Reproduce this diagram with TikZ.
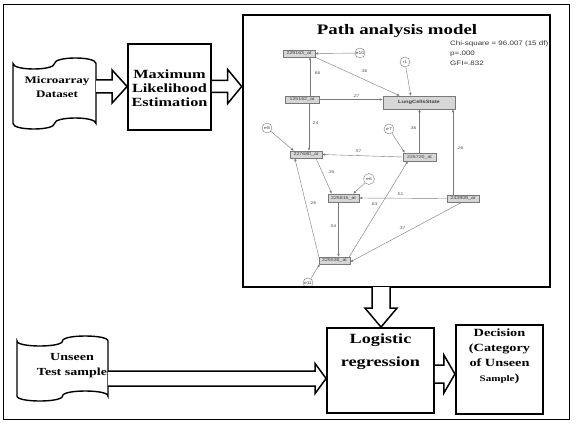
\documentclass[tikz,border=0pt]{standalone}
\usepackage{fontspec}
\setmainfont{Liberation Serif}
\newfontfamily\wserif[FakeStretch=1.3]{Liberation Serif}
\newfontfamily\wsans[FakeStretch=1.25]{Liberation Sans}
\usetikzlibrary{arrows.meta,calc}
\definecolor{amosline}{RGB}{120,120,120}
\definecolor{amosfill}{RGB}{214,214,214}
\newcommand\tapepath[6]{%
\draw[#1] (#2,{#3+#6}) .. controls (#2,{#3+#6+4*#6/3}) and ({(#2+#4)/2},{#3+#6+4*#6/3}) .. ({(#2+#4)/2},{#3+#6})
 .. controls ({(#2+#4)/2},{#3+#6-4*#6/3}) and (#4,{#3+#6-4*#6/3}) .. (#4,{#3+#6})
 -- (#4,{#5-#6}) .. controls (#4,{#5-#6-4*#6/3}) and ({(#2+#4)/2},{#5-#6-4*#6/3}) .. ({(#2+#4)/2},{#5-#6})
 .. controls ({(#2+#4)/2},{#5-#6+4*#6/3}) and (#2,{#5-#6+4*#6/3}) .. (#2,{#5-#6}) -- cycle;}
% horizontal hollow arrow: start, end, shaft half, head half, head length
\newcommand\harrowblk[5]{%
\draw[blk] let \p1=(#1), \p2=(#2) in (\x1,\y1+#3) -- (\x2-#5,\y1+#3) -- (\x2-#5,\y1+#4) -- (\x2,\y1)
 -- (\x2-#5,\y1-#4) -- (\x2-#5,\y1-#3) -- (\x1,\y1-#3);}
% vertical (downward) hollow arrow
\newcommand\varrowblk[5]{%
\draw[blk] let \p1=(#1), \p2=(#2) in (\x1-#3,\y1) -- (\x1-#3,\y2+#5) -- (\x1-#4,\y2+#5) -- (\x1,\y2)
 -- (\x1+#4,\y2+#5) -- (\x1+#3,\y2+#5) -- (\x1+#3,\y1);}
\begin{document}
\begin{tikzpicture}[x=1pt,y=-1pt,
  bigbox/.style={draw=black,line width=1.8pt,inner sep=0pt},
  tapeln/.style={draw=black,line width=1.4pt},
  blk/.style={draw=black,line width=1.5pt,fill=white,line join=miter},
  btxt/.style={align=center,inner sep=0pt},
  gbox/.style={draw=amosline,fill=amosfill,line width=0.4pt,inner sep=0pt,minimum width=32pt,minimum height=7pt,font=\wsans\fontsize{4.2}{5}\selectfont,text=black!75},
  errc/.style={circle,draw=amosline,fill=white,line width=0.4pt,inner sep=0pt,minimum size=10pt,font=\wsans\fontsize{4}{5}\selectfont,text=black!75},
  pth/.style={draw=amosline,line width=0.4pt,-{Latex[length=3pt,width=2.4pt]},>=Latex},
  elab/.style={font=\wsans\fontsize{4}{5}\selectfont,text=black!65,inner sep=0pt},
  stat/.style={anchor=base west,inner sep=0pt,font=\wsans\fontsize{6.4}{7}\selectfont,text=black!80}
]
\useasboundingbox (0,0) rectangle (577,425);
\fill[white] (0,0) rectangle (577,425);
% outer frame
\draw[line width=0.8pt] (3,4) rectangle (569,419);

% ---------------- top row ----------------
\tapepath{tapeln}{13}{58}{96}{129}{5.5}
\node[btxt,font=\wserif\bfseries\fontsize{10}{13.5}\selectfont] (ds) at (57,87) {Microarray\\Dataset};

\node[bigbox,minimum width=83pt,minimum height=86pt] (mle) at (169.5,87) {};
\node[btxt,font=\wserif\bfseries\fontsize{12.5}{14}\selectfont] (mletext) at (169.5,88) {Maximum\\Likelihood\\Estimation};

\node[draw=black,line width=2.6pt,minimum width=307pt,minimum height=272pt,inner sep=0pt] (pam) at (396.5,151) {};

\coordinate (a1s) at (96,86.5);
\harrowblk{a1s}{mle.west |- a1s}{6.5pt}{16.5pt}{15pt}
\coordinate (a2s) at (mle.east |- 0,86.5);
\harrowblk{a2s}{pam.west |- a2s}{6pt}{17pt}{14pt}

% ---------------- path analysis model ----------------
\node[anchor=base,inner sep=0pt,font=\wserif\bfseries\fontsize{14.5}{16}\selectfont] (ttl) at (397,35) {Path analysis model};
\node[stat] (chi) at (450,46) {Chi-square = 96.007 (15 df)};
\node[stat] (pv) at (450,56) {p=.000};
\node[stat] (gfi) at (450,65.5) {GFI=.832};

\begin{scope}
\clip (244.5,16.5) rectangle (548.5,285.5);
\node[gbox] (n229) at (299,53.5) {229163\_at};
\node[gbox,minimum width=34pt] (n125) at (302,99.5) {125162\_at};
\node[gbox,minimum width=72pt,minimum height=13pt,font=\wsans\bfseries\fontsize{4.6}{5}\selectfont] (lung) at (419,102.5) {LungCellsState};
\node[gbox] (n227) at (306,154.5) {227680\_at};
\node[gbox,minimum width=33pt,minimum height=8pt] (n720) at (419.5,157) {225720\_at};
\node[gbox,minimum width=31pt,minimum height=8pt] (n815) at (343.5,198) {225815\_at};
\node[gbox] (n243) at (463,198.5) {243909\_at};
\node[gbox,minimum width=31pt] (n536) at (334.5,260.5) {225536\_at};
\node[errc] (e10) at (360,53) {e10};
\node[errc] (r1) at (405,62) {r1};
\node[errc] (e8) at (267,128) {e8};
\node[errc] (e7) at (389,129) {e7};
\node[errc,minimum size=11pt] (e6) at (369,179) {e6};
\node[errc] (e11) at (308,283) {e11};

\draw[pth] (e10) -- (n229.east);
\draw[pth] (n229.south east) -- ($(lung.north west)+(17,0)$);
\draw[pth] (r1) -- ($(lung.north west)+(28,0)$);
\draw[pth] ($(n125.north)+(8,0)$) -- ($(n229.south)+(11,0)$);
\draw[pth] (n125.east) -- (lung.west |- n125.east);
\draw[pth] ($(n125.south)+(7,0)$) -- ($(n227.north)+(3,0)$);
\draw[pth] (e8) -- ($(n227.north west)+(4,0)$);
\draw[pth] (e7) -- ($(n720.north west)+(2,0)$);
\draw[pth] (n720.north) -- (n720.north |- lung.south);
\draw[pth] ($(n243.north)+(-10,0)$) coordinate (u243) -- (u243 |- lung.south);
\draw[pth] (n720.west) -- (n227.east);
\draw[pth] ($(n227.south)+(10,0)$) -- ($(n815.north west)+(4,0)$);
\draw[pth] (e6) -- ($(n815.north east)+(-6,0)$);
\draw[pth] (n243.west) -- (n815.east);
\draw[pth] ($(n815.south)+(-5,0)$) coordinate (d815) -- (d815 |- n536.north);
\draw[pth] ($(n243.south)+(-1,0)$) -- ($(n536.east)+(0,1.5)$);
\draw[pth] (n536.north west) -- ($(n227.south west)+(5,0)$);
\draw[pth] ($(n536.north east)+(-1,0)$) -- ($(n720.south west)+(5,0)$);
\draw[pth] (e11) -- ($(n536.south west)+(1,0)$);

\node[elab] (l66) at (317,73) {.66};
\node[elab] (l36a) at (364,71) {.36};
\node[elab] (l27) at (356,96) {.27};
\node[elab] (l24) at (315,123) {.24};
\node[elab] (l36b) at (413,128) {.36};
\node[elab] (l26a) at (460,148) {.26};
\node[elab] (l57) at (358,151) {.57};
\node[elab] (l35) at (331,172) {.35};
\node[elab] (l51) at (400,194) {.51};
\node[elab] (l26b) at (313,203) {.26};
\node[elab] (l63) at (374,204) {.63};
\node[elab] (l54) at (333,226) {.54};
\node[elab] (l37) at (402,228) {.37};
\end{scope}

% ---------------- bottom row ----------------
\node[bigbox,minimum width=107pt,minimum height=85pt] (lr) at (380.5,370.5) {};
\node[btxt,font=\wserif\bfseries\fontsize{14}{23}\selectfont] (lrtext) at (380.5,352) {Logistic\\regression};

\node[bigbox,line width=2.2pt,minimum width=87pt,minimum height=89pt] (dec) at (499.5,369.5) {};
\node[btxt,font=\wserif\bfseries\fontsize{11}{15}\selectfont] (dectext) at (499.5,356) {Decision\\(Category\\of Unseen\\{\fontsize{8.5}{15}\selectfont Sample})};

\tapepath{tapeln}{17}{336}{108}{401}{5}
\node[btxt,font=\wserif\bfseries\fontsize{10.8}{15}\selectfont] (ut) at (72,366) {Unseen\\Test sample};

\coordinate (a3s) at (381,287);
\varrowblk{a3s}{a3s |- lr.north}{9pt}{16pt}{19pt}
\coordinate (a4s) at (108,378.5);
\harrowblk{a4s}{lr.west |- a4s}{7.5pt}{15pt}{11pt}
\coordinate (a5s) at (lr.east |- 0,374);
\harrowblk{a5s}{dec.west |- a5s}{9pt}{19pt}{11pt}
\end{tikzpicture}
\end{document}
